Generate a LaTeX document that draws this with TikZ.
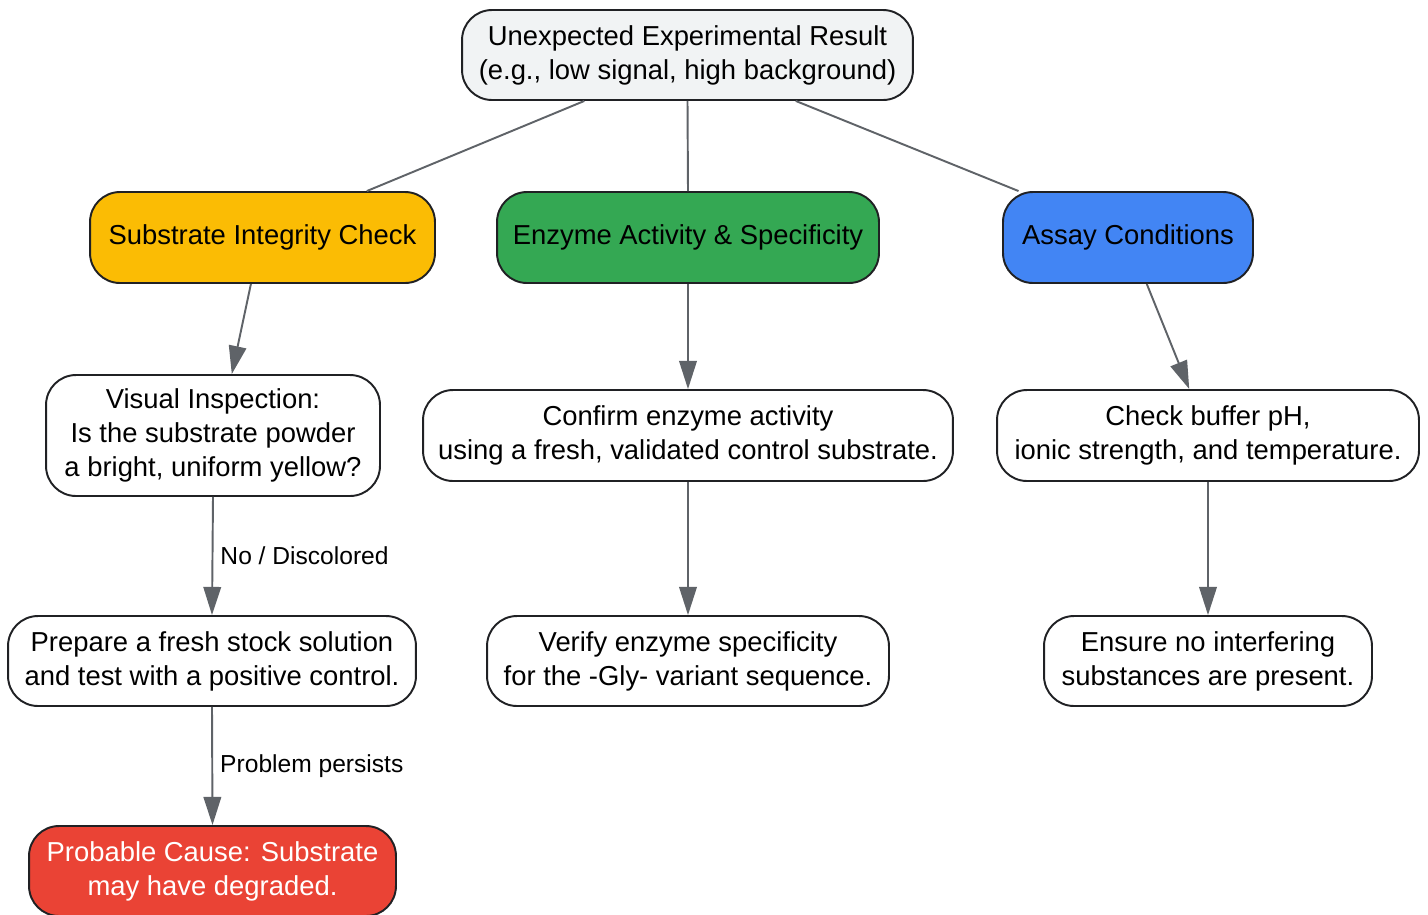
\documentclass[tikz,border=0pt]{standalone}
\usepackage{fontspec}
\setmainfont{Liberation Sans}
\usetikzlibrary{arrows.meta}

\definecolor{boxgrey}{HTML}{F1F3F4}
\definecolor{boxyellow}{HTML}{FBBC04}
\definecolor{boxgreen}{HTML}{34A853}
\definecolor{boxblue}{HTML}{4285F4}
\definecolor{boxred}{HTML}{EA4335}
\definecolor{linegrey}{HTML}{5F6368}
\definecolor{edgeblack}{HTML}{202124}

\tikzset{
  box/.style={draw=edgeblack, line width=1.1pt, rounded corners=0.6cm, align=center,
    font=\fontsize{15.6}{19.3}\selectfont, inner sep=2pt},
  link/.style={draw=linegrey, line width=1.1pt},
  flow/.style={link, -{Triangle[width=10pt,length=16pt]}},
  tag/.style={font=\fontsize{14}{16}\selectfont, right, inner sep=4pt}
}

\begin{document}
\begin{tikzpicture}[x=0.02cm, y=-0.02cm]
  \useasboundingbox (0,0) rectangle (1428,914);

  % top and the three branches
  \node[box, fill=boxgrey, minimum width=9.02cm, minimum height=1.8cm] (res) at (687.5,55)
    {Unexpected Experimental Result\\(e.g., low signal, high background)};
  \node[box, fill=boxyellow, minimum width=6.9cm, minimum height=1.82cm] (sub) at (262.5,237.5)
    {Substrate Integrity Check};
  \node[box, fill=boxgreen, minimum width=7.64cm, minimum height=1.82cm] (enz) at (688,237.5)
    {Enzyme Activity \& Specificity};
  \node[box, fill=boxblue, minimum width=5.0cm, minimum height=1.82cm] (asy) at (1128,237.5)
    {Assay Conditions};

  % second row
  \node[box, fill=white, minimum width=6.68cm, minimum height=2.42cm] (vis) at (213,435.5)
    {Visual Inspection:\\Is the substrate powder\\a bright, uniform yellow?};
  \node[box, fill=white, minimum width=10.6cm, minimum height=1.82cm] (act) at (688,435.5)
    {Confirm enzyme activity\\using a fresh, validated control substrate.};
  \node[box, fill=white, minimum width=8.44cm, minimum height=1.82cm] (buf) at (1208,435.5)
    {Check buffer pH,\\ionic strength, and temperature.};

  % third row
  \node[box, fill=white, minimum width=8.16cm, minimum height=1.8cm] (fresh) at (212,661)
    {Prepare a fresh stock solution\\and test with a positive control.};
  \node[box, fill=white, minimum width=8.04cm, minimum height=1.8cm] (spec) at (688,661)
    {Verify enzyme specificity\\for the -Gly- variant sequence.};
  \node[box, fill=white, minimum width=6.56cm, minimum height=1.8cm] (intf) at (1208,661)
    {Ensure no interfering\\substances are present.};

  % cause
  \node[box, fill=boxred, text=white, minimum width=7.34cm, minimum height=1.8cm] (cause) at (212.5,871)
    {Probable Cause: Substrate\\may have degraded.};

  \draw[link] (res.-156) -- (sub.24);
  \draw[link] (res.south) -- (enz.north);
  \draw[link] (res.-23) -- (asy.157);

  \draw[flow] (sub.-104) -- (vis.73);
  \draw[flow] (enz.south) -- (act.north);
  \draw[flow] (asy.-68) -- (buf.112);

  \draw[flow] (vis.south) -- node[tag] {No / Discolored} (fresh.north);
  \draw[flow] (act.south) -- (spec.north);
  \draw[flow] (buf.south) -- (intf.north);

  \draw[flow] (fresh.south) -- node[tag] {Problem persists} (cause.north);
\end{tikzpicture}
\end{document}
